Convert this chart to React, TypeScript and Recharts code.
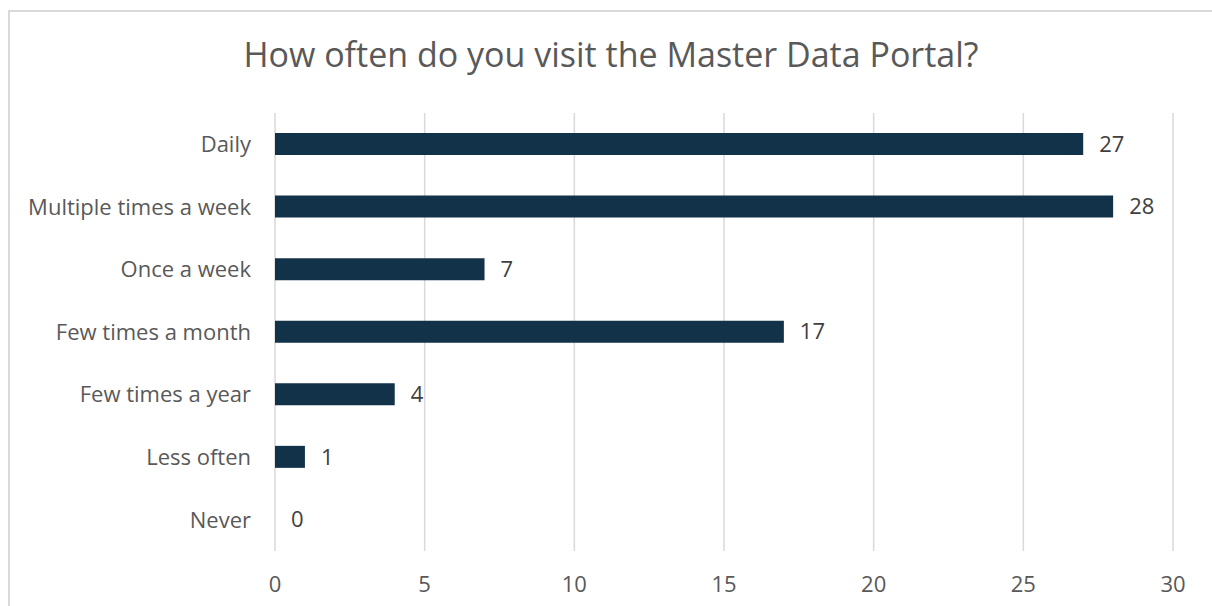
import { BarChart, Bar, XAxis, YAxis, CartesianGrid, LabelList } from "recharts";

const categories = [
  "Daily",
  "Multiple times a week",
  "Once a week",
  "Few times a month",
  "Few times a year",
  "Less often",
  "Never",
];
const counts = [27, 28, 7, 17, 4, 1, 0];
const xTicks = [0, 5, 10, 15, 20, 25, 30];

const data = categories.map((name, i) => ({ name, value: counts[i] }));

const FONT = "'Open Sans', sans-serif";
const TEXT = "#595959";

// custom label so the zero bar still gets its "0"
const renderValue = (props: any) => {
  const { x, y, width, height, value } = props;
  return (
    <text
      x={Number(x) + Number(width || 0) + 16}
      y={Number(y) + Number(height) / 2}
      dy="0.35em"
      fill="#404040"
      fontSize={22}
      fontFamily={FONT}
    >
      {value}
    </text>
  );
};

export default function App() {
  return (
    <div
      style={{
        position: "fixed",
        top: 10,
        left: 8,
        width: 1204,
        height: 596,
        borderTop: "2px solid #d9d9d9",
        borderLeft: "2px solid #d9d9d9",
        background: "#fff",
        fontFamily: FONT,
        overflow: "hidden",
      }}
    >
      {/* Title */}
      <div
        style={{
          position: "absolute",
          top: 19,
          left: 0,
          width: 1202,
          textAlign: "center",
          fontSize: 34,
          color: TEXT,
        }}
      >
        How often do you visit the Master Data Portal?
      </div>

      <BarChart
        width={1202}
        height={594}
        data={data}
        layout="vertical"
        margin={{ top: 101, right: 39, bottom: 15, left: 0 }}
      >
        <CartesianGrid horizontal={false} stroke="#d9d9d9" strokeWidth={1.5} />
        <XAxis
          type="number"
          domain={[0, 30]}
          ticks={xTicks}
          axisLine={false}
          tickLine={false}
          tickSize={0}
          tickMargin={25}
          height={40}
          tick={{ fontSize: 22, fill: TEXT, fontFamily: FONT }}
        />
        <YAxis
          type="category"
          dataKey="name"
          width={265}
          axisLine={false}
          tickLine={false}
          tickSize={0}
          tickMargin={24}
          tick={{ fontSize: 22, fill: TEXT, fontFamily: FONT }}
        />
        <Bar
          dataKey="value"
          fill="#123249"
          barSize={22}
          minPointSize={0.01}
          isAnimationActive={false}
        >
          <LabelList dataKey="value" content={renderValue} />
        </Bar>
      </BarChart>
    </div>
  );
}
